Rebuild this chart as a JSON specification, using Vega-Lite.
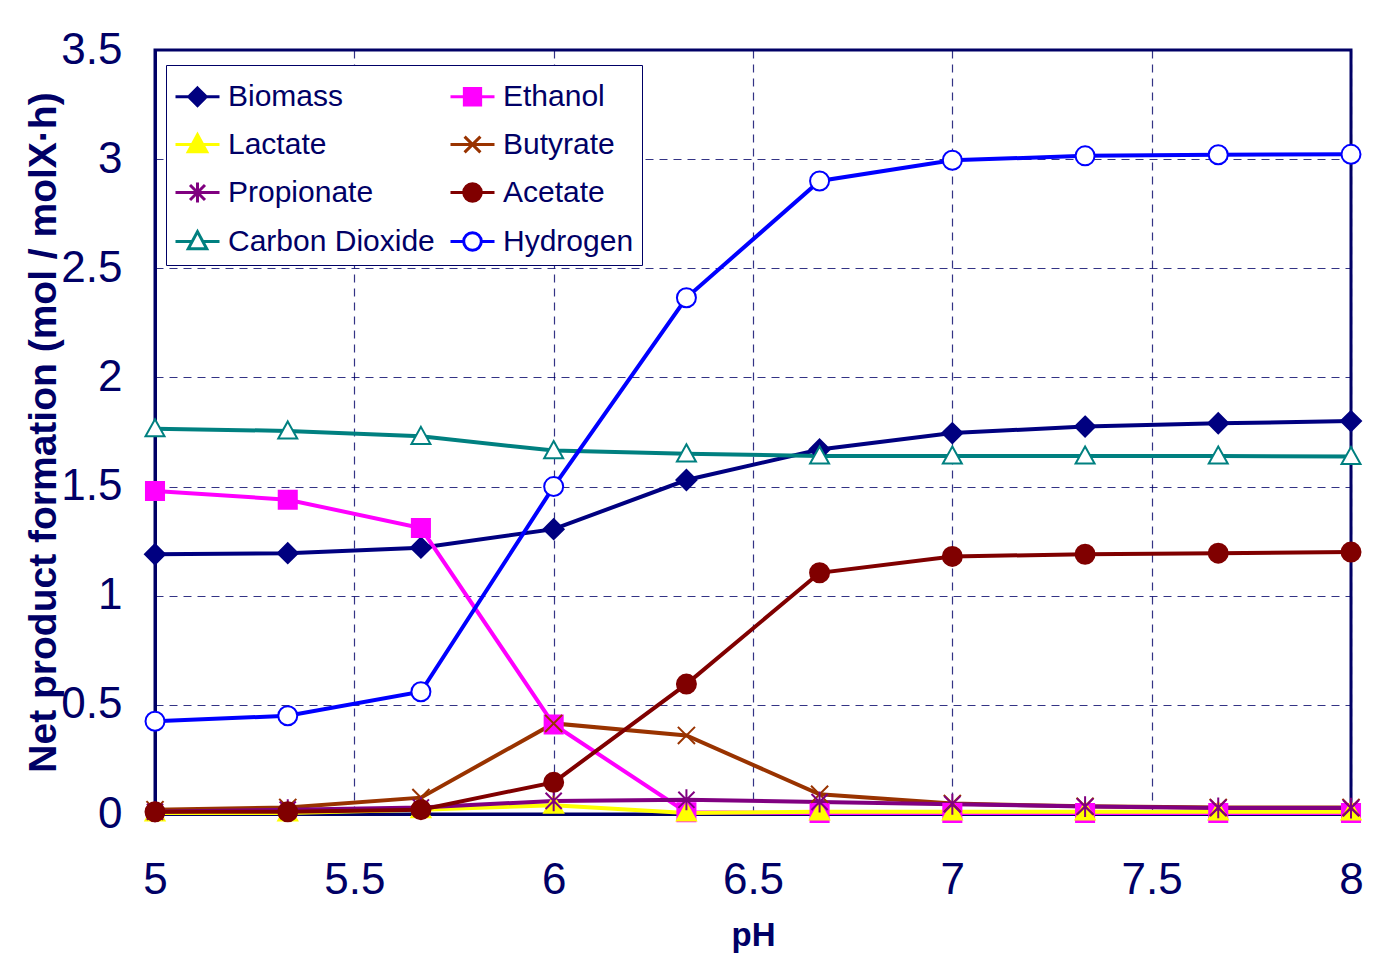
{
  "$schema": "https://vega.github.io/schema/vega-lite/v6.json",
  "width": 1196,
  "height": 764,
  "autosize": "none",
  "padding": {"left": 155, "top": 50, "right": 31, "bottom": 155},
  "background": "white",
  "config": {
    "view": {"stroke": "#000066", "strokeWidth": 3},
    "font": "Liberation Sans"
  },
  "data": {
    "values": [
      {"pH": 5, "s": "Biomass", "v": 1.19}, {"pH": 5.333, "s": "Biomass", "v": 1.195}, {"pH": 5.667, "s": "Biomass", "v": 1.22}, {"pH": 6, "s": "Biomass", "v": 1.305}, {"pH": 6.333, "s": "Biomass", "v": 1.53}, {"pH": 6.667, "s": "Biomass", "v": 1.67}, {"pH": 7, "s": "Biomass", "v": 1.745}, {"pH": 7.333, "s": "Biomass", "v": 1.775}, {"pH": 7.667, "s": "Biomass", "v": 1.79}, {"pH": 8, "s": "Biomass", "v": 1.8},
      {"pH": 5, "s": "Ethanol", "v": 1.48}, {"pH": 5.333, "s": "Ethanol", "v": 1.44}, {"pH": 5.667, "s": "Ethanol", "v": 1.31}, {"pH": 6, "s": "Ethanol", "v": 0.41}, {"pH": 6.333, "s": "Ethanol", "v": 0.008}, {"pH": 6.667, "s": "Ethanol", "v": 0.005}, {"pH": 7, "s": "Ethanol", "v": 0.005}, {"pH": 7.333, "s": "Ethanol", "v": 0.005}, {"pH": 7.667, "s": "Ethanol", "v": 0.005}, {"pH": 8, "s": "Ethanol", "v": 0.005},
      {"pH": 5, "s": "Lactate", "v": 0.005}, {"pH": 5.333, "s": "Lactate", "v": 0.005}, {"pH": 5.667, "s": "Lactate", "v": 0.02}, {"pH": 6, "s": "Lactate", "v": 0.04}, {"pH": 6.333, "s": "Lactate", "v": 0.005}, {"pH": 6.667, "s": "Lactate", "v": 0.01}, {"pH": 7, "s": "Lactate", "v": 0.01}, {"pH": 7.333, "s": "Lactate", "v": 0.01}, {"pH": 7.667, "s": "Lactate", "v": 0.01}, {"pH": 8, "s": "Lactate", "v": 0.01},
      {"pH": 5, "s": "Butyrate", "v": 0.02}, {"pH": 5.333, "s": "Butyrate", "v": 0.03}, {"pH": 5.667, "s": "Butyrate", "v": 0.075}, {"pH": 6, "s": "Butyrate", "v": 0.415}, {"pH": 6.333, "s": "Butyrate", "v": 0.36}, {"pH": 6.667, "s": "Butyrate", "v": 0.09}, {"pH": 7, "s": "Butyrate", "v": 0.048}, {"pH": 7.333, "s": "Butyrate", "v": 0.035}, {"pH": 7.667, "s": "Butyrate", "v": 0.03}, {"pH": 8, "s": "Butyrate", "v": 0.03},
      {"pH": 5, "s": "Propionate", "v": 0.01}, {"pH": 5.333, "s": "Propionate", "v": 0.02}, {"pH": 5.667, "s": "Propionate", "v": 0.03}, {"pH": 6, "s": "Propionate", "v": 0.06}, {"pH": 6.333, "s": "Propionate", "v": 0.065}, {"pH": 6.667, "s": "Propionate", "v": 0.055}, {"pH": 7, "s": "Propionate", "v": 0.045}, {"pH": 7.333, "s": "Propionate", "v": 0.034}, {"pH": 7.667, "s": "Propionate", "v": 0.028}, {"pH": 8, "s": "Propionate", "v": 0.027},
      {"pH": 5, "s": "Acetate", "v": 0.01}, {"pH": 5.333, "s": "Acetate", "v": 0.01}, {"pH": 5.667, "s": "Acetate", "v": 0.02}, {"pH": 6, "s": "Acetate", "v": 0.145}, {"pH": 6.333, "s": "Acetate", "v": 0.595}, {"pH": 6.667, "s": "Acetate", "v": 1.105}, {"pH": 7, "s": "Acetate", "v": 1.18}, {"pH": 7.333, "s": "Acetate", "v": 1.19}, {"pH": 7.667, "s": "Acetate", "v": 1.195}, {"pH": 8, "s": "Acetate", "v": 1.2},
      {"pH": 5, "s": "Carbon Dioxide", "v": 1.765}, {"pH": 5.333, "s": "Carbon Dioxide", "v": 1.755}, {"pH": 5.667, "s": "Carbon Dioxide", "v": 1.73}, {"pH": 6, "s": "Carbon Dioxide", "v": 1.665}, {"pH": 6.333, "s": "Carbon Dioxide", "v": 1.65}, {"pH": 6.667, "s": "Carbon Dioxide", "v": 1.64}, {"pH": 7, "s": "Carbon Dioxide", "v": 1.64}, {"pH": 7.333, "s": "Carbon Dioxide", "v": 1.64}, {"pH": 7.667, "s": "Carbon Dioxide", "v": 1.64}, {"pH": 8, "s": "Carbon Dioxide", "v": 1.638},
      {"pH": 5, "s": "Hydrogen", "v": 0.425}, {"pH": 5.333, "s": "Hydrogen", "v": 0.45}, {"pH": 5.667, "s": "Hydrogen", "v": 0.56}, {"pH": 6, "s": "Hydrogen", "v": 1.5}, {"pH": 6.333, "s": "Hydrogen", "v": 2.365}, {"pH": 6.667, "s": "Hydrogen", "v": 2.9}, {"pH": 7, "s": "Hydrogen", "v": 2.995}, {"pH": 7.333, "s": "Hydrogen", "v": 3.015}, {"pH": 7.667, "s": "Hydrogen", "v": 3.02}, {"pH": 8, "s": "Hydrogen", "v": 3.022}
    ]
  },
  "encoding": {
    "x": {
      "field": "pH", "type": "quantitative",
      "scale": {"domain": [5, 8], "nice": false, "zero": false},
      "axis": {
        "values": [5, 5.5, 6, 6.5, 7, 7.5, 8], "format": "~g", "labelFlush": false,
        "labelFont": "Liberation Sans", "labelFontSize": 44, "labelColor": "#000066", "labelPadding": 44,
        "ticks": false, "domainColor": "#000066", "domainWidth": 3,
        "grid": true, "gridColor": "#000066", "gridDash": [8, 6], "gridWidth": 1.2, "gridOpacity": 0.8,
        "title": "pH", "titleFont": "Liberation Sans", "titleFontSize": 33, "titleFontWeight": "bold", "titleColor": "#000066", "titlePadding": 17
      }
    },
    "y": {
      "field": "v", "type": "quantitative",
      "scale": {"domain": [0, 3.5], "nice": false},
      "axis": {
        "values": [0, 0.5, 1, 1.5, 2, 2.5, 3, 3.5], "format": "~g",
        "labelFont": "Liberation Sans", "labelFontSize": 44, "labelColor": "#000066", "labelPadding": 33,
        "ticks": false, "domainColor": "#000066", "domainWidth": 3,
        "grid": true, "gridColor": "#000066", "gridDash": [8, 6], "gridWidth": 1.2, "gridOpacity": 0.8,
        "title": "Net product formation (mol / molX·h)", "titleFont": "Liberation Sans", "titleFontSize": 39, "titleFontWeight": "bold", "titleColor": "#000066", "titlePadding": -3
      }
    }
  },
  "layer": [
    {
      "mark": {"type": "line", "strokeWidth": 4},
      "encoding": {
        "color": {
          "field": "s", "type": "nominal",
          "scale": {
            "domain": ["Biomass", "Ethanol", "Lactate", "Butyrate", "Propionate", "Acetate", "Carbon Dioxide", "Hydrogen"],
            "range": ["#000080", "#FF00FF", "#FFFF00", "#993300", "#800080", "#800000", "#008080", "#0000FF"]
          },
          "legend": {
            "orient": "none", "legendX": 11, "legendY": 15, "columns": 2, "direction": "horizontal", "title": null,
            "labelFont": "Liberation Sans", "labelFontSize": 30, "labelColor": "#000066", "labelOffset": 7, "labelLimit": 500,
            "symbolSize": 1936, "symbolStrokeWidth": 3, "rowPadding": 9, "columnPadding": 9,
            "padding": 8, "strokeColor": "#000066", "fillColor": "white",
            "encode": {
              "legend": {"update": {"width": {"value": 549}}},
              "symbols": {
                "update": {
                  "shape": {"signal": "{'Biomass':'M-1,0H1M0,-0.4L0.4,0L0,0.4L-0.4,0Z','Ethanol':'M-1,0H1M-0.37,-0.37H0.37V0.37H-0.37Z','Lactate':'M-1,0H1M0,-0.45L0.42,0.33H-0.42Z','Butyrate':'M-1,0H1M-0.36,-0.36L0.36,0.36M-0.36,0.36L0.36,-0.36','Propionate':'M-1,0H1M-0.34,-0.34L0.34,0.34M-0.34,0.34L0.34,-0.34M0,-0.45V0.45','Acetate':'M-1,0H1M-0.4,0A0.4,0.4 0 1,0 0.4,0A0.4,0.4 0 1,0 -0.4,0Z','Carbon Dioxide':'M-1,0H-0.24M0.24,0H1M0,-0.45L0.42,0.33H-0.42Z','Hydrogen':'M-1,0H-0.4M0.4,0H1M-0.4,0A0.4,0.4 0 1,0 0.4,0A0.4,0.4 0 1,0 -0.4,0Z'}[datum.value]"},
                  "fill": {"signal": "{'Biomass':'#000080','Ethanol':'#FF00FF','Lactate':'#FFFF00','Butyrate':'transparent','Propionate':'transparent','Acetate':'#800000','Carbon Dioxide':'#FFFFFF','Hydrogen':'#FFFFFF'}[datum.value]"},
                  "strokeWidth": {"value": 3},
                  "opacity": {"value": 1}
                }
              }
            }
          }
        }
      }
    },
    {"transform": [{"filter": "datum.s == 'Biomass'"}], "mark": {"type": "point", "shape": "M0,-1L1,0L0,1L-1,0Z", "size": 400, "strokeWidth": 2, "opacity": 1, "fill": "#000080", "stroke": "#000080"}},
    {"transform": [{"filter": "datum.s == 'Ethanol'"}], "mark": {"type": "point", "shape": "M-0.95,-0.95H0.95V0.95H-0.95Z", "size": 361, "strokeWidth": 2, "opacity": 1, "fill": "#FF00FF", "stroke": "#FF00FF"}},
    {"transform": [{"filter": "datum.s == 'Lactate'"}], "mark": {"type": "point", "shape": "M0,-1L1,0.8H-1Z", "size": 361, "strokeWidth": 2, "opacity": 1, "fill": "#FFFF00", "stroke": "#FFFF00"}},
    {"transform": [{"filter": "datum.s == 'Butyrate'"}], "mark": {"type": "point", "shape": "M-0.9,-0.9L0.9,0.9M-0.9,0.9L0.9,-0.9", "size": 361, "strokeWidth": 2, "opacity": 1, "fill": "transparent", "stroke": "#993300"}},
    {"transform": [{"filter": "datum.s == 'Propionate'"}], "mark": {"type": "point", "shape": "M-0.85,-0.85L0.85,0.85M-0.85,0.85L0.85,-0.85M0,-1.1V1.1", "size": 361, "strokeWidth": 2, "opacity": 1, "fill": "transparent", "stroke": "#800080"}},
    {"transform": [{"filter": "datum.s == 'Acetate'"}], "mark": {"type": "point", "shape": "M-1,0A1,1 0 1,0 1,0A1,1 0 1,0 -1,0Z", "size": 361, "strokeWidth": 2, "opacity": 1, "fill": "#800000", "stroke": "#800000"}},
    {"transform": [{"filter": "datum.s == 'Carbon Dioxide'"}], "mark": {"type": "point", "shape": "M0,-1L1,0.8H-1Z", "size": 361, "strokeWidth": 2, "opacity": 1, "fill": "#FFFFFF", "stroke": "#008080"}},
    {"transform": [{"filter": "datum.s == 'Hydrogen'"}], "mark": {"type": "point", "shape": "M-1,0A1,1 0 1,0 1,0A1,1 0 1,0 -1,0Z", "size": 361, "strokeWidth": 2, "opacity": 1, "fill": "#FFFFFF", "stroke": "#0000FF"}}
  ]
}
